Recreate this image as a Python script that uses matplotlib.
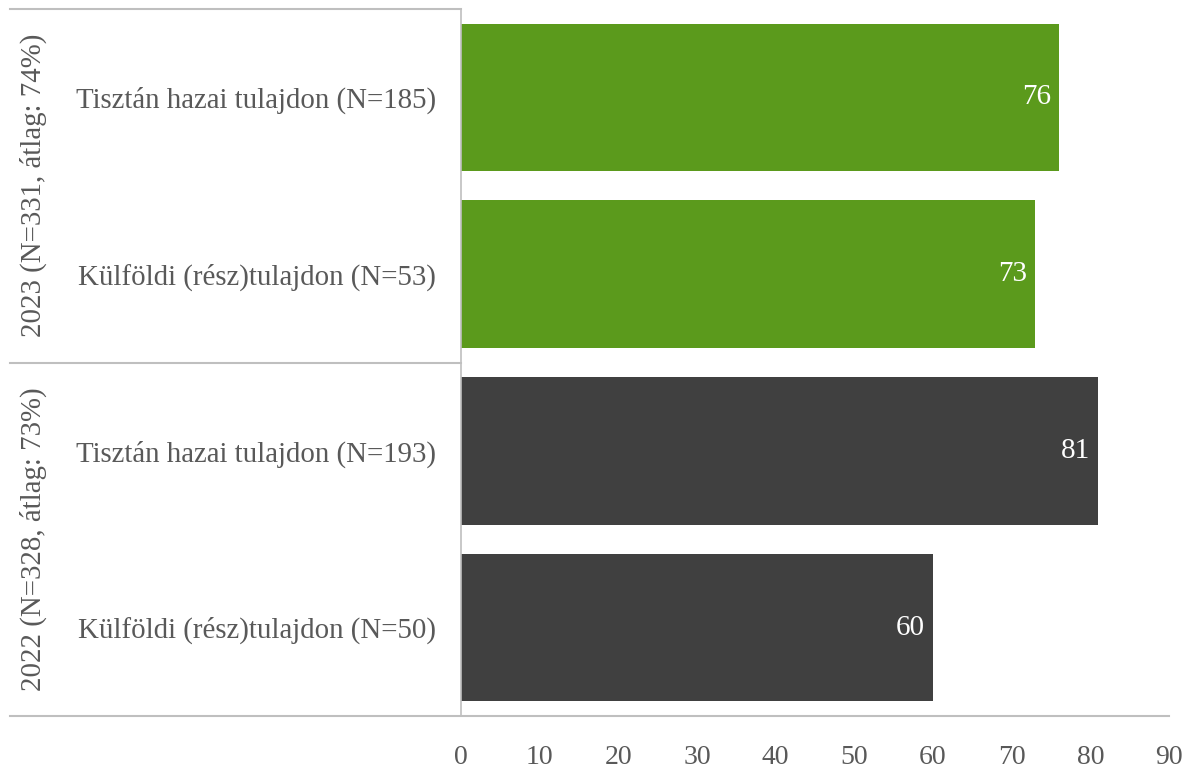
import matplotlib
matplotlib.use('Agg')
import matplotlib.pyplot as plt
import matplotlib.transforms as mtransforms

plt.rcParams['font.family'] = ['Liberation Serif', 'DejaVu Serif']

# data (top to bottom)
categories = [
    'Tisztán hazai tulajdon (N=185)',
    'Külföldi (rész)tulajdon (N=53)',
    'Tisztán hazai tulajdon (N=193)',
    'Külföldi (rész)tulajdon (N=50)',
]
values = [76, 73, 81, 60]
groups = ['2023 (N=331, átlag: 74%)', '2022 (N=328, átlag: 73%)']
group_of = [0, 0, 1, 1]
group_colors = ['#5b9a1c', '#404040']
xticks = list(range(0, 100, 10))

text_color = '#595959'
line_color = '#bfbfbf'

fig = plt.figure(figsize=(11.94, 7.72), dpi=100)
ax = fig.add_axes([461 / 1194, 1 - 716 / 772, (1169 - 461) / 1194, (716 - 9) / 772])

pos = list(range(len(categories)))
colors = [group_colors[g] for g in group_of]
ax.barh(pos, values, height=0.835, color=colors)
ax.set_ylim(len(categories) - 0.5, -0.5)
ax.set_xlim(0, 90)

for p, v in zip(pos, values):
    ax.text(v - 1.0, p, str(v), ha='right', va='center', color='white', fontsize=21)

ax.set_yticks(pos)
ax.set_yticklabels(categories, fontsize=20.8, color=text_color)
ax.set_xticks(xticks)
ax.set_xticklabels([str(t) for t in xticks], fontsize=20, color=text_color)
ax.tick_params(axis='both', length=0)
ax.tick_params(axis='x', pad=21)
ax.tick_params(axis='y', pad=18)

for s in ['top', 'right', 'bottom']:
    ax.spines[s].set_visible(False)
ax.spines['left'].set_color(line_color)
ax.spines['left'].set_linewidth(1.2)

# group separators
trans = mtransforms.blended_transform_factory(ax.transAxes, ax.transData)
x0 = (10 - 461) / (1169 - 461)
for yb in [-0.5, 1.5]:
    ax.plot([x0, 0], [yb, yb], transform=trans, color=line_color, lw=1.5, clip_on=False)
ax.plot([x0, 1], [3.5, 3.5], transform=trans, color=line_color, lw=1.5, clip_on=False)

# group labels
for gi, name in enumerate(groups):
    idx = [i for i, g in enumerate(group_of) if g == gi]
    yc = sum(idx) / len(idx)
    ax.text((33 - 461) / (1169 - 461), yc, name, transform=trans, rotation=90,
            ha='center', va='center', fontsize=20.8, color=text_color)

fig.savefig('out.png', dpi=100)
